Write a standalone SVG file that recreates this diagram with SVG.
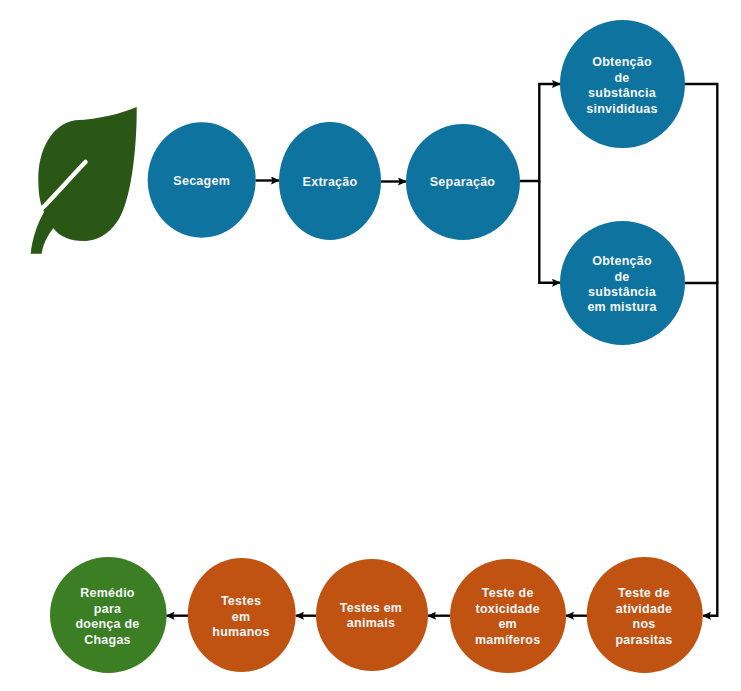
<svg xmlns="http://www.w3.org/2000/svg" width="741" height="691" viewBox="0 0 741 691">
<style>
.l{font-family:"Liberation Sans",Arial,sans-serif;font-size:12.5px;font-weight:700;fill:#f4f7f8;text-anchor:middle;letter-spacing:.25px}
.b{fill:#0f73a0}.o{fill:#c05212}.g{fill:#3c7e24}
.c{fill:none;stroke:#050505;stroke-width:2.400;marker-end:url(#a)}
.n{fill:none;stroke:#050505;stroke-width:2.400}
</style>
<defs><marker id="a" markerUnits="userSpaceOnUse" markerWidth="9" markerHeight="8" refX="8" refY="4" orient="auto"><path d="M0 0L9 4L0 8L1.500 4Z" fill="#050505"/></marker></defs>
<rect width="741" height="691" fill="#fff"/>
<g id="connectors">
<path class="c" d="M255.500 180.500H279"/>
<path class="c" d="M381 181.500H406"/>
<path class="c" d="M520 181H539.300V84H560"/>
<path class="c" d="M539.300 181V282.700H560"/>
<path class="n" d="M685 84H717.300V283"/>
<path class="c" d="M685 283H717.300V615.700H703"/>
<path class="c" d="M587 615.700H566"/>
<path class="c" d="M450 615.700H428"/>
<path class="c" d="M316 615.700H296"/>
<path class="c" d="M188 615.700H166.500"/>
</g>
<g id="leaf">
<path fill="#2b5716" d="M136.700 107C120 114 100 119 75 120.300C52 124 38 150 38.300 180C38.500 190 39 198 42 207L44 212C37 224 32 240 30.700 253.700H41.700C43 245 47 236 53.300 228.300C60 237 70 241 83.300 241C100 241 113 231 121 215C131 195 137 150 136.700 107Z"/>
<path fill="none" stroke="#fff" stroke-width="4.500" stroke-linecap="round" d="M85.500 162C72 176 58 192 42.500 208"/>
</g>
<g id="secagem"><ellipse class="b" cx="201.700" cy="180" rx="54" ry="57.700"/><text class="l" x="201.700" y="184.500">Secagem</text></g>
<g id="extracao"><ellipse class="b" cx="330" cy="181" rx="51" ry="59"/><text class="l" x="330" y="185.500">Extração</text></g>
<g id="separacao"><ellipse class="b" cx="463" cy="182" rx="57" ry="58"/><text class="l" x="462.500" y="185.500">Separação</text></g>
<g id="obtencao1"><ellipse class="b" cx="622.500" cy="84" rx="62.500" ry="64"/><text class="l"><tspan x="622" y="66">Obtenção</tspan><tspan x="622" y="81.500">de</tspan><tspan x="622" y="97">substância</tspan><tspan x="622" y="112.500">sinvididuas</tspan></text></g>
<g id="obtencao2"><ellipse class="b" cx="622.500" cy="283" rx="62.500" ry="62"/><text class="l"><tspan x="622" y="264.500">Obtenção</tspan><tspan x="622" y="280.500">de</tspan><tspan x="622" y="296">substância</tspan><tspan x="622" y="311">em mistura</tspan></text></g>
<g id="atividade"><ellipse class="o" cx="644.700" cy="615" rx="58" ry="58"/><text class="l"><tspan x="644" y="597">Teste de</tspan><tspan x="644" y="612.500">atividade</tspan><tspan x="644" y="628">nos</tspan><tspan x="644" y="643.500">parasitas</tspan></text></g>
<g id="toxicidade"><ellipse class="o" cx="508" cy="616" rx="58" ry="57"/><text class="l"><tspan x="507.700" y="597">Teste de</tspan><tspan x="507.700" y="612.500">toxicidade</tspan><tspan x="507.700" y="628">em</tspan><tspan x="507.700" y="643.500">mamíferos</tspan></text></g>
<g id="animais"><ellipse class="o" cx="372" cy="615" rx="56" ry="56"/><text class="l"><tspan x="371" y="612">Testes em</tspan><tspan x="371" y="627">animais</tspan></text></g>
<g id="humanos"><ellipse class="o" cx="241.700" cy="615" rx="54" ry="57"/><text class="l"><tspan x="241" y="604.500">Testes</tspan><tspan x="241" y="620.500">em</tspan><tspan x="241" y="636">humanos</tspan></text></g>
<g id="remedio"><ellipse class="g" cx="108.300" cy="615" rx="58.300" ry="58"/><text class="l"><tspan x="107.500" y="597">Remédio</tspan><tspan x="107.500" y="612.500">para</tspan><tspan x="107.500" y="628">doença de</tspan><tspan x="107.500" y="643.500">Chagas</tspan></text></g>
</svg>
